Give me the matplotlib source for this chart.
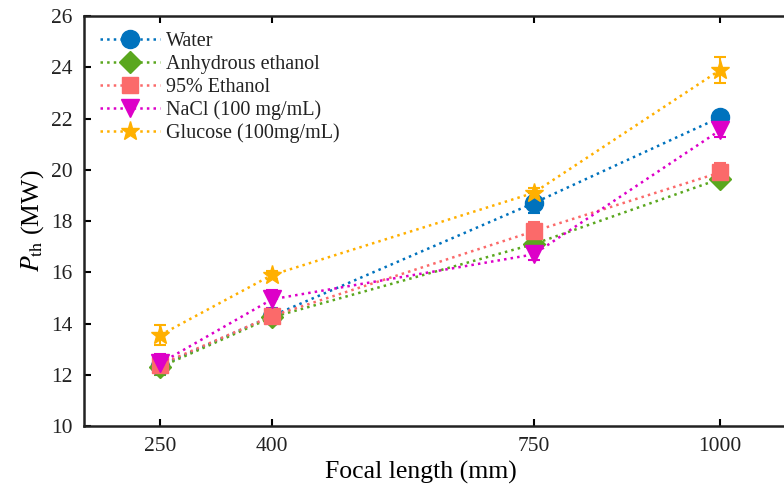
import matplotlib.pyplot as plt
from matplotlib.lines import Line2D

plt.rcParams['font.family'] = ['Liberation Serif', 'DejaVu Serif']
plt.rcParams['mathtext.fontset'] = 'stix'
plt.rcParams['text.color'] = '#222222'

# focal lengths (mm)
focal = [250, 400, 750, 1000]

# threshold power P_th (MW) and error bars
water = [12.35, 14.3, 18.7, 22.05]
water_err = [0.3, 0.15, 0.4, 0.2]
anhydrous = [12.3, 14.25, 17.1, 19.65]
anhydrous_err = [0.3, 0.1, 0.1, 0.1]
ethanol95 = [12.4, 14.3, 17.6, 19.9]
ethanol95_err = [0.35, 0.1, 0.35, 0.35]
nacl = [12.45, 14.95, 16.7, 21.55]
nacl_err = [0.35, 0.35, 0.2, 0.25]
glucose = [13.55, 15.9, 19.1, 23.9]
glucose_err = [0.4, 0.15, 0.2, 0.5]

labels = ['Water', 'Anhydrous ethanol', '95% Ethanol', 'NaCl (100 mg/mL)', 'Glucose (100mg/mL)']
series = [water, anhydrous, ethanol95, nacl, glucose]
errors = [water_err, anhydrous_err, ethanol95_err, nacl_err, glucose_err]
colors = ['#0072BD', '#5AA71E', '#FB6A6A', '#DD00C8', '#FFB000']
markers = ['o', 'D', 's', 'v', '*']
msizes = [13, 11, 11, 13, 14]

fig = plt.figure(figsize=(7.84, 4.87), dpi=100)
ax = fig.add_axes([0.107, 0.125, 0.907, 0.842])

handles = []
for y, e, c, m, ms, lab in zip(series, errors, colors, markers, msizes, labels):
    ax.errorbar(focal, y, yerr=e, color=c, ecolor=c, linestyle=':', linewidth=1.8,
                marker=m, markersize=ms, capsize=4.5, elinewidth=1.5, capthick=1.5)
    handles.append(Line2D([], [], color=c, linestyle=':', linewidth=1.8,
                          marker=m, markersize=ms, label=lab))

ax.set_xlim(148, 1100)
ax.set_ylim(10, 26)
ax.set_xticks(focal)
ax.set_yticks(range(10, 27, 2))
ax.tick_params(direction='in', top=True, right=True, labelsize=15.5, length=5,
               width=1.5, pad=8, labelcolor='#222222')
for s in ax.spines.values():
    s.set_linewidth(1.8)
    s.set_color('#222222')

ax.set_xlabel('Focal length (mm)', fontsize=18.5)
ax.xaxis.set_label_coords(0.474, -0.085)
ax.set_ylabel(r'$P_{\mathrm{th}}$ (MW)', fontsize=18.5, labelpad=4)

ax.legend(handles=handles, loc='upper left', frameon=False, fontsize=14.5,
          handlelength=3.0, borderaxespad=0.4, labelspacing=0.18, handletextpad=0.3,
          borderpad=0.4)

plt.savefig('out.png', dpi=100)
